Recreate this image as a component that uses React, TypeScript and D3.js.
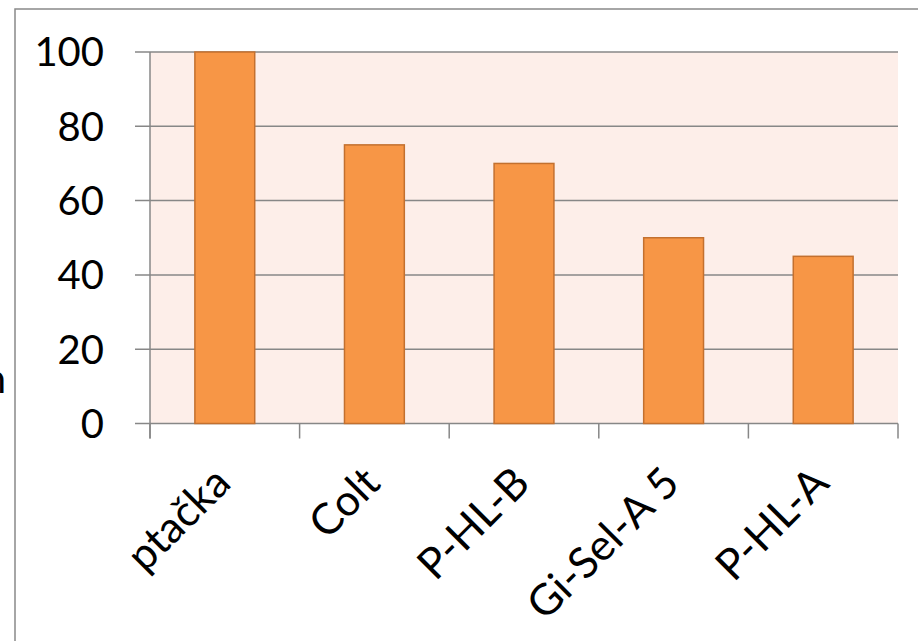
import * as d3 from "d3";

const categories = ["ptačka", "Colt", "P-HL-B", "Gi-Sel-A 5", "P-HL-A"];
const values = [100, 75, 70, 50, 45];
const yTicks = [0, 20, 40, 60, 80, 100];

const W = 918;
const H = 641;
const plot = { left: 150, right: 898, top: 52, bottom: 423.5 };
const font = "Lato, 'Open Sans', sans-serif";
const gridColor = "#878787";

export default function App() {
  const x = d3
    .scaleBand<string>()
    .domain(categories)
    .range([plot.left, plot.right])
    .paddingInner(0.6)
    .paddingOuter(0.3);

  const y = d3.scaleLinear().domain([0, 100]).range([plot.bottom, plot.top]);

  const step = x.step();
  const boundaries = d3.range(categories.length + 1).map((i) => plot.left + i * step);

  return (
    <svg
      width={W}
      height={H}
      style={{ position: "absolute", left: 0, top: 0, overflow: "hidden", background: "#fff" }}
    >
      {/* chart frame */}
      <rect x={15} y={9} width={W + 20} height={H + 20} fill="#fff" stroke="#898989" strokeWidth={1.5} />

      {/* clipped axis title at left edge */}
      <text x={6} y={393} fontFamily={font} fontSize={40} textAnchor="end" fill="#000">
        n
      </text>

      {/* plot area */}
      <rect
        x={plot.left}
        y={plot.top}
        width={plot.right - plot.left}
        height={plot.bottom - plot.top}
        fill="#FDEEE9"
      />

      {/* gridlines + y ticks */}
      {yTicks.map((t) => (
        <g key={t}>
          <line x1={135} x2={plot.right} y1={y(t)} y2={y(t)} stroke={gridColor} strokeWidth={1.5} />
          <text
            x={104}
            y={y(t)}
            dy="0.36em"
            textAnchor="end"
            fontFamily={font}
            fontSize={40}
            fill="#000"
          >
            {t}
          </text>
        </g>
      ))}

      {/* y axis line */}
      <line x1={plot.left} x2={plot.left} y1={plot.top} y2={plot.bottom + 15} stroke={gridColor} strokeWidth={1.5} />

      {/* x ticks */}
      {boundaries.map((bx, i) => (
        <line key={i} x1={bx} x2={bx} y1={plot.bottom} y2={plot.bottom + 15} stroke={gridColor} strokeWidth={1.5} />
      ))}

      {/* bars */}
      {categories.map((c, i) => (
        <rect
          key={c}
          x={x(c)}
          y={y(values[i])}
          width={x.bandwidth()}
          height={y(0) - y(values[i])}
          fill="#F79646"
          stroke="#C3702F"
          strokeWidth={1.5}
        />
      ))}

      {/* rotated category labels */}
      {categories.map((c) => {
        const cx = (x(c) ?? 0) + x.bandwidth() / 2;
        return (
          <text
            key={c}
            transform={`translate(${cx + 8},${plot.bottom + 62}) rotate(-45)`}
            textAnchor="end"
            fontFamily={font}
            fontSize={43}
            fill="#000"
          >
            {c}
          </text>
        );
      })}
    </svg>
  );
}
